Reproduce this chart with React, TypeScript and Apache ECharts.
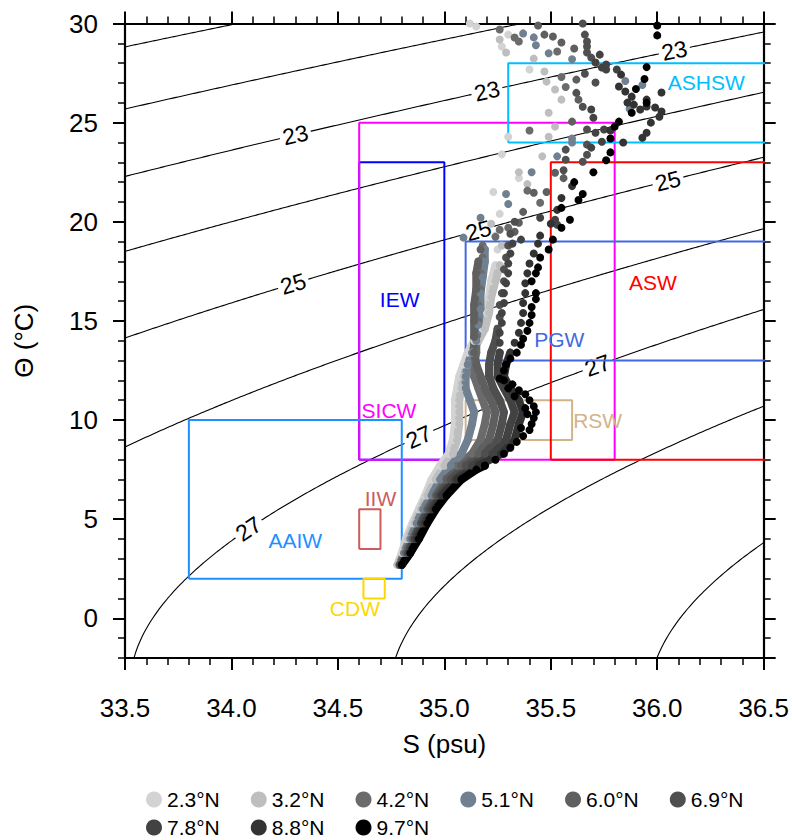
import React, { useEffect, useRef } from "react";
import * as echarts from "echarts";

const FONT = "'Liberation Sans', Arial, Helvetica, sans-serif";

// ---------- axes ----------
const S_MIN = 33.5;
const S_MAX = 36.5;
const S_INTERVAL = 0.5;
const T_MIN = -2;
const T_MAX = 30;

// ---------- isopycnals (sigma-theta levels) ----------
const SIGMA_LEVELS = [20, 21, 22, 23, 24, 25, 26, 27, 28, 29, 30];
const CONTOUR_LABEL_LEVELS = [23, 25, 27];
const CONTOUR_LABEL_S = [
  [34.3, 35.2, 36.08],
  [34.29, 35.16, 36.05],
  [34.08, 34.88, 35.72],
];

// ---------- water mass boxes (drawing order) ----------
const BOX_NAMES = ["IEW", "SICW", "PGW", "RSW", "ASW", "ASHSW", "AAIW", "IIW", "CDW"];
const BOX_COLORS = ["#0000ff", "#ff00ff", "#4169e1", "#d2b48c", "#ff0000", "#00bfff", "#1e90ff", "#cd5c5c", "#ffd700"];
const BOX_S_MIN = [34.6, 34.6, 35.1, 35.1, 35.5, 35.3, 33.8, 34.6, 34.62];
const BOX_S_MAX = [35.0, 35.8, 36.6, 35.6, 36.6, 36.6, 34.8, 34.7, 34.72];
const BOX_T_MIN = [8, 8, 13, 9, 8, 24, 2, 3.5, 1];
const BOX_T_MAX = [23, 25, 19, 11, 23, 28, 10, 5.5, 2];
const BOX_LABEL_S = [34.79, 34.74, 35.54, 35.72, 35.98, 36.23, 34.3, 34.7, 34.58];
const BOX_LABEL_T = [16.06, 10.5, 14.04, 10.0, 16.92, 27.02, 3.94, 6.06, 0.5];

// ---------- profiles ----------
const PROFILE_NAMES = ["2.3°N", "3.2°N", "4.2°N", "5.1°N", "6.0°N", "6.9°N", "7.8°N", "8.8°N", "9.7°N"];
const PROFILE_COLORS = ["#d3d3d3", "#bebebe", "#6b6b6b", "#708090", "#5f5f5f", "#4f4f4f", "#424242", "#333333", "#000000"];

// dense (continuous) part of each profile: [S, Θ]
const DEEP_23 = [[34.78,2.7],[34.8,3.3],[34.82,4.0],[34.85,4.8],[34.88,5.5],[34.91,6.2],[34.94,7.0],[34.98,7.7],[35.02,8.3],[35.04,9.0],[35.05,9.8],[35.05,10.4],[35.05,11.0],[35.06,11.6],[35.07,12.2],[35.09,12.8],[35.11,13.4],[35.14,14.0],[35.18,14.6],[35.2,15.4],[35.21,16.2],[35.22,17.0],[35.24,17.8]];
const DEEP_32 = [[34.78,2.7],[34.81,3.3],[34.83,4.0],[34.86,4.8],[34.89,5.5],[34.92,6.2],[34.96,7.0],[35.0,7.7],[35.04,8.3],[35.06,9.0],[35.07,9.8],[35.07,10.4],[35.07,11.0],[35.08,11.6],[35.09,12.2],[35.11,12.8],[35.13,13.4],[35.16,14.0],[35.19,14.6],[35.21,15.4],[35.22,16.2],[35.24,17.0],[35.26,17.8]];
const DEEP_42 = [[34.79,2.7],[34.82,3.3],[34.85,4.0],[34.88,4.8],[34.91,5.5],[34.95,6.2],[35.0,7.0],[35.06,7.7],[35.13,8.3],[35.17,9.0],[35.19,9.8],[35.2,10.4],[35.18,11.0],[35.16,11.6],[35.14,12.2],[35.14,12.8],[35.15,13.4],[35.15,14.2],[35.16,15.0],[35.16,15.8],[35.17,16.6],[35.17,17.4],[35.18,18.2]];
const DEEP_51 = [[34.79,2.7],[34.81,3.3],[34.84,4.0],[34.87,4.8],[34.9,5.5],[34.94,6.2],[34.98,7.0],[35.03,7.7],[35.08,8.3],[35.11,9.0],[35.13,9.8],[35.14,10.4],[35.12,11.0],[35.1,11.6],[35.1,12.2],[35.11,12.8],[35.13,13.4],[35.15,14.0],[35.16,14.8],[35.17,15.6],[35.17,16.4],[35.18,17.2],[35.19,18.0],[35.19,18.6]];
const DEEP_60 = [[34.79,2.7],[34.82,3.3],[34.85,4.0],[34.89,4.8],[34.92,5.5],[34.96,6.2],[35.01,7.0],[35.08,7.7],[35.16,8.3],[35.21,9.0],[35.23,9.8],[35.24,10.4],[35.22,11.0],[35.19,11.6],[35.17,12.2],[35.15,12.8],[35.14,13.4],[35.14,14.2],[35.14,15.0],[35.14,15.8],[35.15,16.6],[35.15,17.4],[35.16,18.0]];
const DEEP_69 = [[34.79,2.7],[34.83,3.3],[34.86,4.0],[34.89,4.8],[34.93,5.5],[34.97,6.2],[35.03,7.0],[35.1,7.7],[35.19,8.3],[35.25,9.0],[35.27,9.8],[35.28,10.4],[35.26,11.0],[35.23,11.6],[35.21,12.2],[35.21,12.8],[35.22,13.4],[35.24,14.0],[35.25,14.6]];
const DEEP_78 = [[34.8,2.7],[34.83,3.3],[34.86,4.0],[34.9,4.8],[34.94,5.5],[34.98,6.2],[35.05,7.0],[35.13,7.7],[35.23,8.3],[35.29,9.0],[35.31,9.8],[35.33,10.4],[35.31,11.0],[35.28,11.6],[35.25,12.2],[35.25,12.8],[35.26,13.4]];
const DEEP_88 = [[34.8,2.7],[34.84,3.3],[34.87,4.0],[34.91,4.8],[34.95,5.5],[34.99,6.2],[35.06,7.0],[35.16,7.7],[35.27,8.3],[35.33,9.0],[35.35,9.8],[35.37,10.4],[35.35,11.0],[35.31,11.6],[35.28,12.2],[35.29,12.8],[35.31,13.4]];
const DEEP_97 = [[34.8,2.7],[34.84,3.3],[34.88,4.0],[34.92,4.8],[34.96,5.5],[35.01,6.2],[35.08,7.0],[35.15,7.5],[35.19,7.7]];

// individual (scattered) points of each profile: [S, Θ]
const UPPER_23 = [[35.25,18.6],[35.24,19.3],[35.26,20.4],[35.23,21.5],[35.35,22.2],[35.27,23.4],[35.3,24.29],[35.4,27.68],[35.27,28.84],[35.3,29.44],[35.15,29.85],[35.12,30.0]];
const UPPER_32 = [[35.27,18.8],[35.22,19.9],[35.39,21.9],[35.35,22.5],[35.46,23.3],[35.49,24.29],[35.52,24.8],[35.49,25.5],[35.55,26.16],[35.52,26.67],[35.48,27.07],[35.47,27.58],[35.42,28.23],[35.29,28.54],[35.26,29.19]];
const UPPER_42 = [[35.18,18.8],[35.24,19.24],[35.26,19.6],[35.3,19.7],[35.39,21.57],[35.45,20.96],[35.4,24.6],[35.26,29.7],[35.33,29.29],[35.35,29.09],[35.53,28.59],[35.55,27.3],[35.57,26.8]];
const UPPER_51 = [[35.09,19.2],[35.17,20.2],[35.3,20.9],[35.29,21.4],[35.41,22.5],[35.53,23.3],[35.6,24.0],[35.6,24.2],[35.37,29.5],[35.42,29.3],[35.43,28.9],[35.49,28.5],[35.6,28.2],[35.85,27.1],[35.87,25.7],[35.93,26.9]];
const UPPER_60 = [[35.17,18.6],[35.33,19.5],[35.35,19.95],[35.37,20.5],[35.42,21.46],[35.48,21.5],[35.52,22.47],[35.56,22.2],[35.44,29.9],[35.47,29.44],[35.51,29.34],[35.55,29.04],[35.61,28.74],[35.62,27.17],[35.63,26.16],[35.6,25.05]];
const UPPER_69 = [[35.26,15.2],[35.26,15.8],[35.27,16.4],[35.28,17.0],[35.28,17.6],[35.29,18.2],[35.3,18.8],[35.31,19.4],[35.33,20.0],[35.56,22.6],[35.57,23.13],[35.57,23.64],[35.65,23.03],[35.67,23.38],[35.67,23.89],[35.67,24.65],[35.65,25.8],[35.62,26.5],[35.66,27.47],[35.71,27.02],[35.69,28.28],[35.67,28.54],[35.67,28.84],[35.67,29.09],[35.66,29.44],[35.65,30.0]];
const UPPER_78 = [[35.26,13.9],[35.26,14.4],[35.27,14.9],[35.27,15.4],[35.28,15.9],[35.28,16.4],[35.29,16.9],[35.3,17.4],[35.3,17.9],[35.31,18.4],[35.32,18.9],[35.36,19.1],[35.45,20.2],[35.52,20.1],[35.53,19.85],[35.69,23.74],[35.74,24.04],[35.71,24.49],[35.75,24.65],[35.7,25.25],[35.69,25.66],[35.73,28.43],[35.71,28.03],[35.74,27.78],[35.76,27.93],[35.76,27.68],[35.81,27.68]];
const UPPER_88 = [[35.33,13.9],[35.35,14.4],[35.36,14.9],[35.37,15.4],[35.37,15.9],[35.38,16.4],[35.38,16.9],[35.39,17.4],[35.4,17.9],[35.42,18.4],[35.44,18.9],[35.45,19.3],[35.5,19.9],[35.53,20.6],[35.55,21.2],[35.6,21.8],[35.83,27.42],[35.82,26.82],[35.85,26.57],[35.88,26.31],[35.86,26.01],[35.89,25.91],[35.95,26.16],[35.95,25.81],[35.92,25.66],[35.99,25.76],[36.02,25.56],[35.97,25.0],[35.95,24.49],[35.93,24.24],[36.02,26.52],[36.01,25.3],[35.78,24.6],[35.84,24.0]];
const UPPER_97 = [[35.24,8.0],[35.28,8.3],[35.31,8.6],[35.34,8.9],[35.37,9.2],[35.36,9.6],[35.4,9.5],[35.41,9.8],[35.42,10.1],[35.39,10.3],[35.43,10.4],[35.42,10.7],[35.38,10.6],[35.4,11.0],[35.33,11.2],[35.38,11.3],[35.35,11.5],[35.3,11.6],[35.32,11.8],[35.28,12.0],[35.26,12.1],[35.28,12.5],[35.29,12.8],[35.31,13.1],[35.34,13.4],[35.36,13.8],[35.37,14.1],[35.39,14.5],[35.4,14.9],[35.41,15.3],[35.41,15.7],[35.43,16.1],[35.43,16.4],[35.41,17.0],[35.43,17.4],[35.44,17.7],[35.45,18.2],[35.49,18.6],[35.51,19.1],[35.55,19.7],[35.59,20.1],[35.55,20.7],[35.63,21.1],[35.65,21.4],[35.61,22.0],[35.7,22.5],[35.76,23.1],[35.78,23.5],[35.78,24.2],[35.8,24.8],[35.82,25.05],[35.88,25.5],[35.95,26.0],[35.9,26.7],[35.94,27.2],[35.95,27.8],[36.0,29.4],[36.0,29.9]];

const DEEP = [DEEP_23, DEEP_32, DEEP_42, DEEP_51, DEEP_60, DEEP_69, DEEP_78, DEEP_88, DEEP_97];
const UPPER = [UPPER_23, UPPER_32, UPPER_42, UPPER_51, UPPER_60, UPPER_69, UPPER_78, UPPER_88, UPPER_97];

// ---------- layout ----------
const GRID_LEFT = 125;
const GRID_TOP = 23.5;
const GRID_W = 640;
const GRID_H = 634.5;

// UNESCO 1980 equation of state at p = 0 (sigma-theta)
function sigma0(S: number, T: number): number {
  const rw = 999.842594 + 6.793952e-2 * T - 9.09529e-3 * T * T + 1.001685e-4 * T ** 3 - 1.120083e-6 * T ** 4 + 6.536332e-9 * T ** 5;
  const A = 0.824493 - 4.0899e-3 * T + 7.6438e-5 * T * T - 8.2467e-7 * T ** 3 + 5.3875e-9 * T ** 4;
  const B = -5.72466e-3 + 1.0227e-4 * T - 1.6546e-6 * T * T;
  const C = 4.8314e-4;
  return rw + A * S + B * Math.pow(S, 1.5) + C * S * S - 1000;
}

function tOnIsopycnal(S: number, level: number): number {
  let lo = -3, hi = 45;
  if (sigma0(S, lo) < level) return lo;
  if (sigma0(S, hi) > level) return hi;
  for (let i = 0; i < 60; i++) {
    const mid = (lo + hi) / 2;
    if (sigma0(S, mid) > level) lo = mid; else hi = mid;
  }
  return (lo + hi) / 2;
}

export default function App() {
  const ref = useRef<HTMLDivElement>(null);

  useEffect(() => {
    document.body.style.margin = "0";
    if (!ref.current) return;
    const chart = echarts.init(ref.current, undefined, { renderer: "svg" });

    const pxPerS = GRID_W / (S_MAX - S_MIN);
    const pxPerT = GRID_H / (T_MAX - T_MIN);

    const series: any[] = [];

    // isopycnal lines
    SIGMA_LEVELS.forEach((lev) => {
      const pts: number[][] = [];
      for (let k = 0; k <= 340; k++) {
        const S = 33.3 + k * 0.01;
        pts.push([S, tOnIsopycnal(S, lev)]);
      }
      series.push({
        type: "line",
        data: pts,
        showSymbol: false,
        symbol: "none",
        lineStyle: { color: "#000", width: 1.1, opacity: 1 },
        z: 1,
        silent: true,
      });
    });

    // isopycnal labels
    const labelItems: any[] = [];
    CONTOUR_LABEL_LEVELS.forEach((lev, i) => {
      CONTOUR_LABEL_S[i].forEach((S) => {
        const T = tOnIsopycnal(S, lev);
        const slope = (tOnIsopycnal(S + 0.01, lev) - tOnIsopycnal(S - 0.01, lev)) / 0.02;
        const ang = (Math.atan((slope * pxPerT) / pxPerS) * 180) / Math.PI;
        labelItems.push({
          value: [S, T],
          label: { show: true, formatter: String(lev), rotate: ang },
        });
      });
    });
    series.push({
      type: "scatter",
      data: labelItems,
      symbolSize: 1,
      itemStyle: { color: "#fff", opacity: 1 },
      label: {
        show: true,
        position: "inside",
        color: "#000",
        opacity: 1,
        fontSize: 23,
        fontFamily: FONT,
        backgroundColor: "#fff",
        padding: [0, 3],
      },
      z: 2,
      silent: true,
    });

    // boxes
    BOX_NAMES.forEach((nm, i) => {
      const x1 = BOX_S_MIN[i], x2 = BOX_S_MAX[i], y1 = BOX_T_MIN[i], y2 = BOX_T_MAX[i];
      series.push({
        type: "line",
        data: [[x1, y1], [x2, y1], [x2, y2], [x1, y2], [x1, y1]],
        showSymbol: false,
        symbol: "none",
        lineStyle: { color: BOX_COLORS[i], width: 2, opacity: 1 },
        z: 3,
        silent: true,
      });
    });

    // profiles
    PROFILE_NAMES.forEach((nm, i) => {
      series.push({
        name: nm,
        type: "scatter",
        data: UPPER[i],
        symbol: "circle",
        symbolSize: 8,
        itemStyle: { color: PROFILE_COLORS[i], opacity: 1 },
        z: 4,
        silent: true,
      });
      series.push({
        name: nm,
        type: "line",
        data: DEEP[i],
        symbol: "circle",
        symbolSize: 8,
        showSymbol: true,
        showAllSymbol: true,
        itemStyle: { color: PROFILE_COLORS[i], opacity: 1 },
        lineStyle: { color: PROFILE_COLORS[i], width: 8, cap: "round", join: "round", opacity: 1 },
        z: 4,
        silent: true,
      });
    });

    // box labels
    series.push({
      type: "scatter",
      data: BOX_NAMES.map((nm, i) => ({
        value: [BOX_LABEL_S[i], BOX_LABEL_T[i]],
        label: { show: true, formatter: nm, color: BOX_COLORS[i] },
      })),
      symbolSize: 1,
      itemStyle: { color: "rgba(255,255,255,0)", opacity: 1 },
      label: { show: true, position: "inside", fontSize: 21, fontFamily: FONT, opacity: 1 },
      z: 5,
      silent: true,
    });

    const tickLabel = { fontSize: 26, color: "#000", fontFamily: FONT };
    const axisLine = { show: true, onZero: false, lineStyle: { color: "#000", width: 2.2 } };
    const majorTick = { show: true, inside: false, length: 12, lineStyle: { color: "#000", width: 2 } };
    const minorTick = { show: true, splitNumber: 5, length: 7, lineStyle: { color: "#000", width: 1.5 } };

    const xBase = {
      type: "value",
      min: S_MIN,
      max: S_MAX,
      interval: S_INTERVAL,
      axisLine,
      axisTick: majorTick,
      minorTick,
      splitLine: { show: false },
      minorSplitLine: { show: false },
    };
    const yMajor = {
      type: "value",
      min: T_MIN,
      max: T_MAX,
      splitNumber: 6,
      axisLine,
      axisTick: majorTick,
      minorTick: { show: false },
      splitLine: { show: false },
    };
    const yMinor = {
      type: "value",
      min: T_MIN,
      max: T_MAX,
      interval: 1,
      axisLine: { show: false },
      axisTick: { show: true, inside: false, length: 7, lineStyle: { color: "#000", width: 1.5 } },
      axisLabel: { show: false },
      splitLine: { show: false },
    };

    const legendBase = {
      left: 141,
      itemGap: 31,
      itemWidth: 16,
      itemHeight: 18,
      icon: "circle",
      selectedMode: false,
      textStyle: { fontSize: 21, color: "#000", fontFamily: FONT },
    };

    chart.setOption({
      animation: false,
      backgroundColor: "#fff",
      grid: { left: GRID_LEFT, top: GRID_TOP, width: GRID_W, height: GRID_H, containLabel: false },
      xAxis: [
        {
          ...xBase,
          position: "bottom",
          axisLabel: { ...tickLabel, margin: 37, formatter: (v: number) => v.toFixed(1) },
          name: "S (psu)",
          nameLocation: "middle",
          nameGap: 73,
          nameTextStyle: { fontSize: 26, color: "#000", fontFamily: FONT },
        },
        { ...xBase, position: "top", axisLabel: { show: false } },
      ],
      yAxis: [
        {
          ...yMajor,
          position: "left",
          axisLabel: { ...tickLabel, margin: 27, showMinLabel: false },
          name: "Θ (°C)",
          nameLocation: "middle",
          nameGap: 88,
          nameRotate: 90,
          nameTextStyle: { fontSize: 26, color: "#000", fontFamily: FONT },
        },
        { ...yMajor, position: "right", axisLabel: { show: false } },
        { ...yMinor, position: "left" },
        { ...yMinor, position: "right" },
      ],
      legend: [
        { ...legendBase, data: PROFILE_NAMES.slice(0, 6), top: 784 },
        { ...legendBase, data: PROFILE_NAMES.slice(6), top: 812 },
      ],
      series,
    });

    return () => {
      chart.dispose();
    };
  }, []);

  return <div ref={ref} style={{ width: 792, height: 840 }} />;
}
